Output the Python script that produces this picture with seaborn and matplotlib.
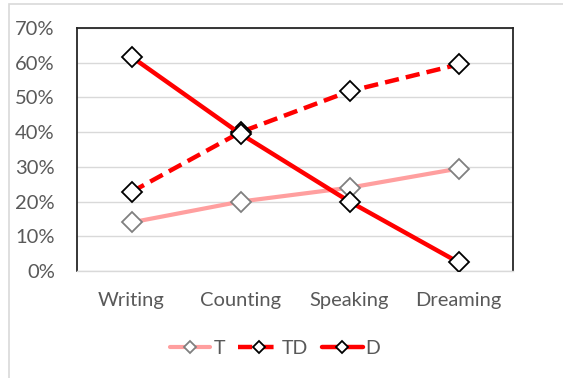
import matplotlib
matplotlib.use("Agg")
import matplotlib.pyplot as plt
import seaborn as sns
import pandas as pd
from matplotlib.patches import Rectangle
from matplotlib.lines import Line2D
from matplotlib.ticker import PercentFormatter

categories = ["Writing", "Counting", "Speaking", "Dreaming"]
t_values = [0.14, 0.20, 0.24, 0.295]
td_values = [0.228, 0.40, 0.518, 0.595]
d_values = [0.617, 0.395, 0.20, 0.025]
series_names = ["T", "TD", "D"]

sns.set_theme(style="white")
plt.rcParams["font.family"] = ["Lato", "DejaVu Sans"]

text_gray = "#595959"
fig = plt.figure(figsize=(5.63, 3.78), dpi=100)
ax = fig.add_axes([77 / 563, 1 - 271 / 378, 436 / 563, 243 / 378])

# chart area border
fig.patches.append(Rectangle((9 / 563, -0.05), 1.2, (1 - 4 / 378) + 0.05,
                             transform=fig.transFigure, fill=False,
                             edgecolor="#d9d9d9", linewidth=1.2))

df = pd.DataFrame({
    "category": categories * 3,
    "value": t_values + td_values + d_values,
    "series": [series_names[0]] * 4 + [series_names[1]] * 4 + [series_names[2]] * 4,
})

styles = {
    "T": dict(color="#ff9f9f", lw=3.0, ls="-", mec="#808080"),
    "TD": dict(color="#ff0000", lw=3.2, ls=(0, (3.2, 1.6)), mec="#000000"),
    "D": dict(color="#ff0000", lw=3.2, ls="-", mec="#000000"),
}

for name in series_names:
    s = styles[name]
    sns.lineplot(data=df[df["series"] == name], x="category", y="value", ax=ax,
                 color=s["color"], linewidth=s["lw"], linestyle=s["ls"],
                 marker="D", markersize=10.5, markerfacecolor="white",
                 markeredgecolor=s["mec"], markeredgewidth=1.3,
                 sort=False, zorder=3, legend=False)

ax.set_xlim(-0.5, 3.5)
ax.set_ylim(0, 0.70)
ax.set_yticks([0, 0.1, 0.2, 0.3, 0.4, 0.5, 0.6, 0.7])
ax.yaxis.set_major_formatter(PercentFormatter(1.0, decimals=0))
ax.grid(axis="y", color="#d9d9d9", linewidth=1.0)
ax.set_axisbelow(True)
ax.set_xlabel("")
ax.set_ylabel("")
ax.tick_params(axis="both", length=0, labelsize=14.5, labelcolor=text_gray)
ax.tick_params(axis="y", pad=16)
ax.tick_params(axis="x", pad=15)

for side in ["left", "right", "top"]:
    ax.spines[side].set_color("#262626")
    ax.spines[side].set_linewidth(1.3)
ax.spines["bottom"].set_color("#d9d9d9")
ax.spines["bottom"].set_linewidth(1.0)

handles = [Line2D([], [], color=styles[n]["color"], lw=styles[n]["lw"],
                  ls=styles[n]["ls"], marker="D", markersize=6.5,
                  markerfacecolor="white", markeredgecolor=styles[n]["mec"],
                  markeredgewidth=1.3)
           for n in series_names]
leg = ax.legend(handles, series_names, loc="center",
                bbox_to_anchor=(275 / 563, 1 - 348 / 378),
                bbox_transform=fig.transFigure, ncol=3, frameon=False,
                fontsize=14, handlelength=2.1, handletextpad=0.15,
                columnspacing=0.7, borderpad=0)
for txt in leg.get_texts():
    txt.set_color(text_gray)

fig.savefig("out.png", dpi=100)
